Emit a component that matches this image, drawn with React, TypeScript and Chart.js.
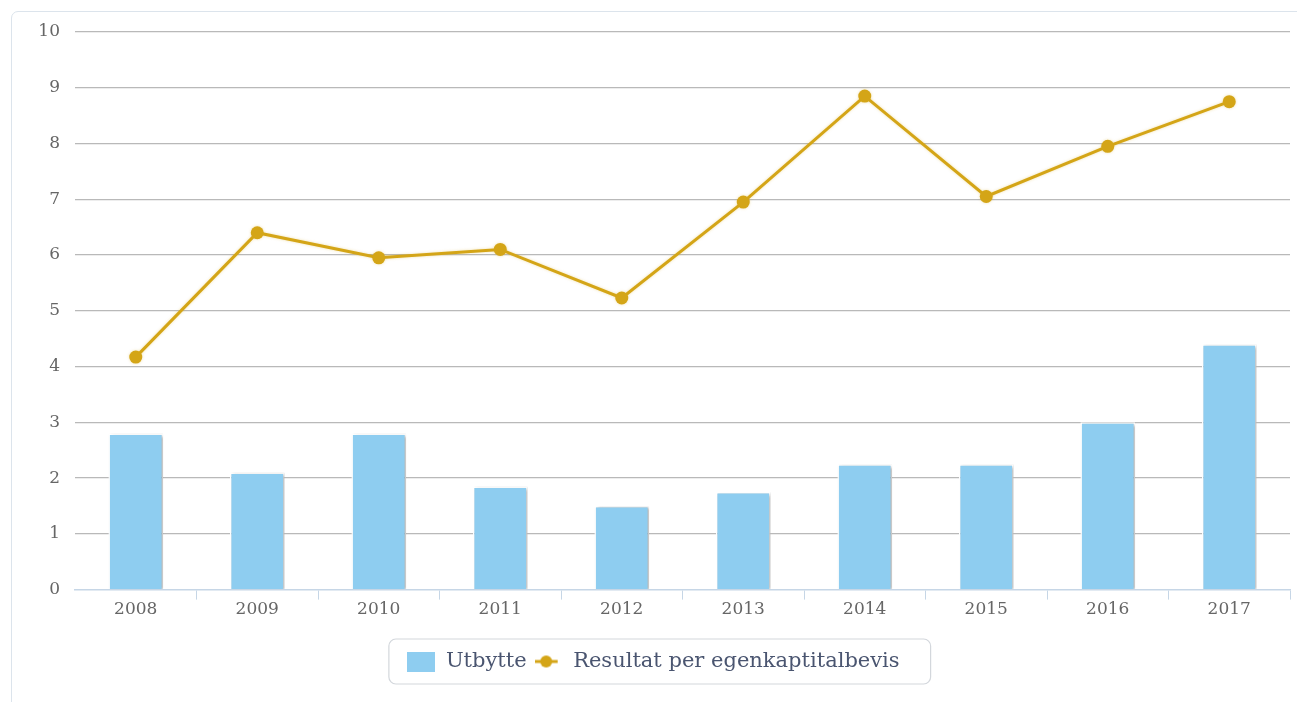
import React, { useEffect, useRef } from "react";
import { Chart, registerables } from "chart.js";

Chart.register(...registerables);

const categories = ["2008", "2009", "2010", "2011", "2012", "2013", "2014", "2015", "2016", "2017"];
const utbytte = [2.8, 2.1, 2.8, 1.85, 1.5, 1.75, 2.25, 2.25, 3.0, 4.4];
const resultat = [4.17, 6.4, 5.95, 6.1, 5.23, 6.95, 8.85, 7.05, 7.95, 8.75];
const seriesNames = ["Utbytte", "Resultat per egenkaptitalbevis"];

const BAR_COLOR = "#8ecdf0";
const LINE_COLOR = "#d4a517";
const GRID_COLOR = "#b9b9b9";
const AXIS_COLOR = "#c6d6e6";
const TICK_FONT = { family: "'DejaVu Serif', serif", size: 17 };

function makeSwatch(w: number, h: number, draw: (c: CanvasRenderingContext2D) => void) {
  const cv = document.createElement("canvas");
  cv.width = w;
  cv.height = h;
  const c = cv.getContext("2d");
  if (c) draw(c);
  return cv;
}

// soft drop shadow under bars and the line
const shadowPlugin = {
  id: "markShadow",
  beforeDatasetDraw(chart: any, args: any) {
    const ctx = chart.ctx;
    ctx.save();
    if (args.meta.type === "bar") {
      ctx.shadowColor = "rgba(0,0,0,0.3)";
      ctx.shadowBlur = 3;
      ctx.shadowOffsetX = 2;
      ctx.shadowOffsetY = 1;
    } else {
      ctx.shadowColor = "rgba(212,165,23,0.35)";
      ctx.shadowBlur = 3;
    }
  },
  afterDatasetDraw(chart: any) {
    chart.ctx.restore();
  },
};

// rounded frame around the legend items
const legendFramePlugin = {
  id: "legendFrame",
  afterDraw(chart: any) {
    const boxes = chart.legend && chart.legend.legendHitBoxes;
    if (!boxes || !boxes.length) return;
    let minX = Infinity, maxX = -Infinity, cy = 0;
    boxes.forEach((b: any) => {
      minX = Math.min(minX, b.left);
      maxX = Math.max(maxX, b.left + b.width);
      cy += b.top + b.height / 2;
    });
    cy /= boxes.length;
    const x = minX - 18.5, y = cy - 22.5, w = maxX - minX + 18.5 + 31, h = 45, r = 7;
    const ctx = chart.ctx;
    ctx.save();
    ctx.strokeStyle = "#d3d7dc";
    ctx.lineWidth = 1.2;
    ctx.beginPath();
    ctx.moveTo(x + r, y);
    ctx.arcTo(x + w, y, x + w, y + h, r);
    ctx.arcTo(x + w, y + h, x, y + h, r);
    ctx.arcTo(x, y + h, x, y, r);
    ctx.arcTo(x, y, x + w, y, r);
    ctx.closePath();
    ctx.stroke();
    ctx.restore();
  },
};

export default function App() {
  const ref = useRef<HTMLCanvasElement | null>(null);

  useEffect(() => {
    if (!ref.current) return;

    const barSwatch = makeSwatch(28, 20, (c) => {
      c.fillStyle = BAR_COLOR;
      c.fillRect(0, 0, 28, 20);
    });
    const lineSwatch = makeSwatch(28, 14, (c) => {
      c.strokeStyle = LINE_COLOR;
      c.lineWidth = 3;
      c.beginPath();
      c.moveTo(0, 7);
      c.lineTo(23, 7);
      c.stroke();
      c.fillStyle = LINE_COLOR;
      c.beginPath();
      c.arc(11.5, 7, 6, 0, Math.PI * 2);
      c.fill();
    });

    const chart = new Chart(ref.current, {
      type: "bar",
      data: {
        labels: categories,
        datasets: [
          {
            type: "line",
            label: seriesNames[1],
            data: resultat,
            borderColor: LINE_COLOR,
            backgroundColor: LINE_COLOR,
            borderWidth: 3,
            pointRadius: 6.5,
            pointBorderWidth: 0,
            pointBackgroundColor: LINE_COLOR,
            tension: 0,
            order: 0,
          } as any,
          {
            type: "bar",
            label: seriesNames[0],
            data: utbytte,
            backgroundColor: BAR_COLOR,
            borderColor: "#ffffff",
            borderWidth: 1.5,
            categoryPercentage: 1,
            barPercentage: 0.45,
            order: 1,
          },
        ],
      },
      options: {
        animation: false,
        responsive: false,
        layout: { padding: { left: 17, right: 7, top: 32, bottom: 20 } },
        scales: {
          x: {
            offset: true,
            afterFit(scale: any) {
              scale.height += 23;
            },
            grid: {
              display: true,
              drawOnChartArea: false,
              drawTicks: true,
              tickLength: 10,
              color: (ctx: any) => (ctx.index === 0 ? "rgba(0,0,0,0)" : AXIS_COLOR),
            },
            border: { display: true, color: AXIS_COLOR, width: 1.5 },
            ticks: { color: "#666666", font: TICK_FONT, padding: 0, maxRotation: 0 },
          },
          y: {
            min: 0,
            max: 10,
            afterFit(scale: any) {
              scale.width = 58;
            },
            ticks: { stepSize: 1, color: "#666666", font: TICK_FONT, padding: 15 },
            grid: {
              drawTicks: false,
              lineWidth: 1.2,
              color: (ctx: any) => (ctx.tick && ctx.tick.value === 0 ? "rgba(0,0,0,0)" : GRID_COLOR),
            },
            border: { display: false },
          },
        },
        plugins: {
          tooltip: { enabled: false },
          legend: {
            position: "bottom",
            reverse: true,
            labels: {
              usePointStyle: true,
              pointStyleWidth: 28,
              padding: 8,
              color: "#4a5570",
              font: { family: "'DejaVu Serif', serif", size: 21 },
              generateLabels(ch: any) {
                const items = Chart.defaults.plugins.legend.labels.generateLabels(ch);
                items.forEach((it: any) => {
                  it.pointStyle = it.datasetIndex === 1 ? barSwatch : lineSwatch;
                  it.lineWidth = 0;
                });
                return items;
              },
            },
          },
        },
      },
      plugins: [shadowPlugin, legendFramePlugin],
    });

    return () => chart.destroy();
  }, []);

  return (
    <div style={{ position: "absolute", left: 0, top: 0, width: 1297, height: 702, overflow: "hidden", background: "#fff" }}>
      <div
        style={{
          position: "absolute",
          left: 11,
          top: 11,
          width: 1400,
          height: 800,
          border: "1.5px solid #dce4ec",
          borderRadius: 7,
          boxSizing: "border-box",
        }}
      />
      <canvas ref={ref} width={1297} height={702} style={{ position: "absolute", left: 0, top: 0, display: "block" }} />
    </div>
  );
}
